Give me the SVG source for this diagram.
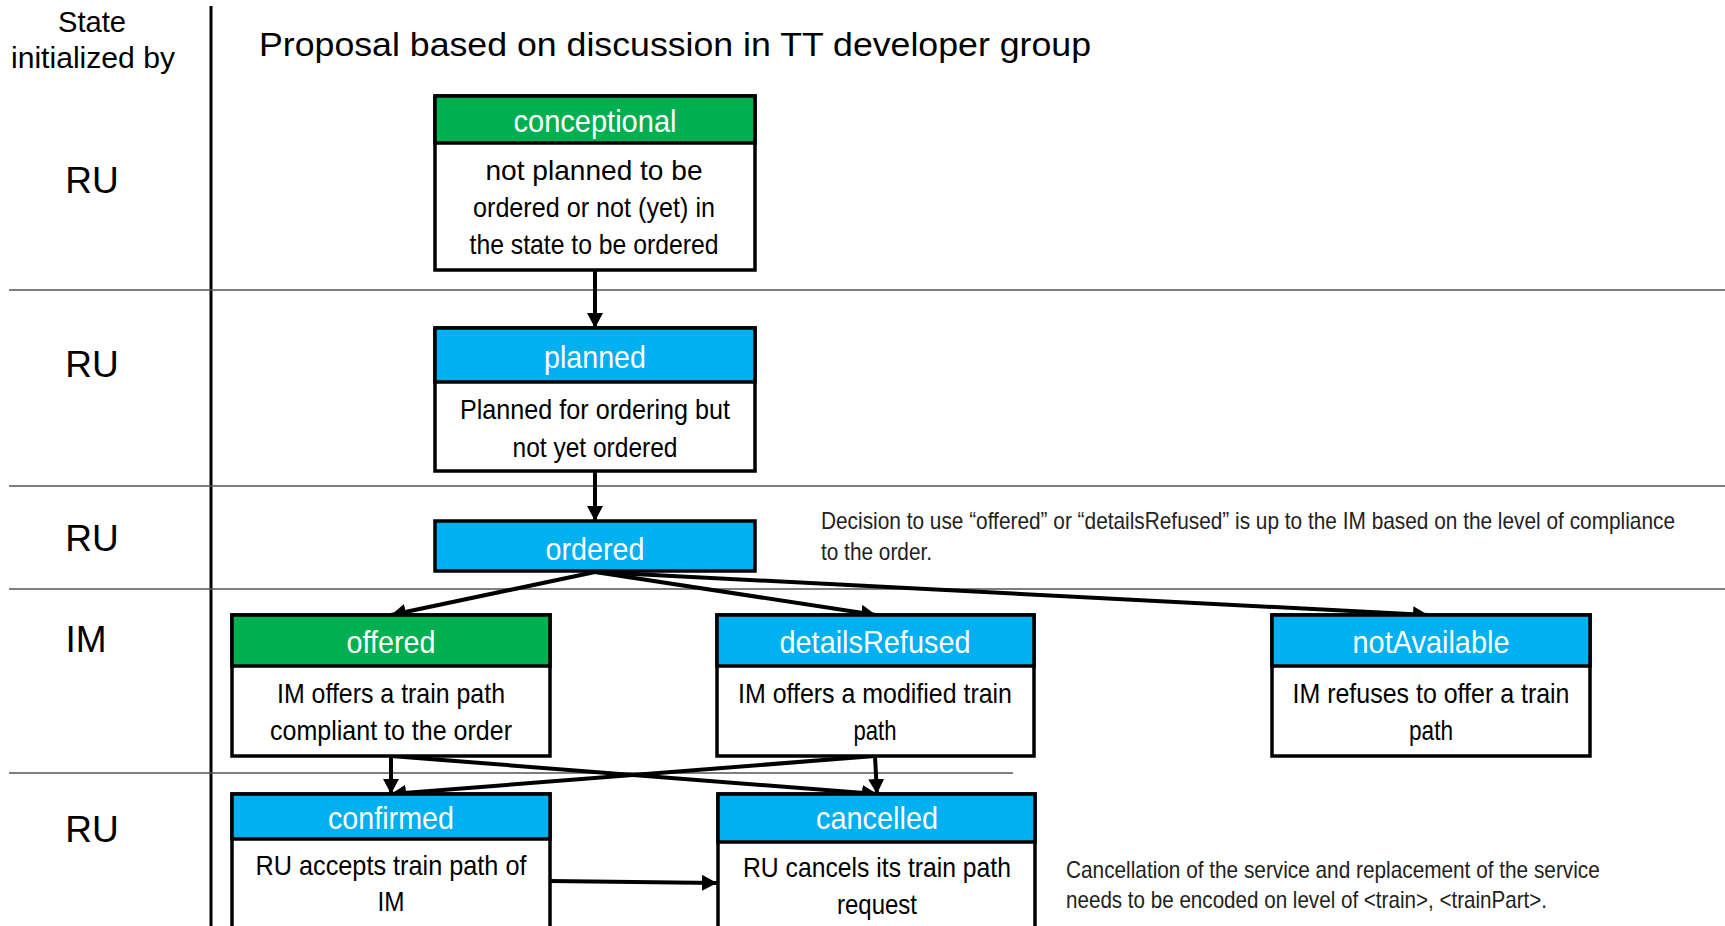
<svg xmlns="http://www.w3.org/2000/svg" width="1725" height="926" viewBox="0 0 1725 926">
<style>
  .bg{fill:#fff}
  .grid{stroke:#555;stroke-width:1.6;fill:none}
  .div{stroke:#000;stroke-width:3;fill:none}
  .lbl{font-family:"Liberation Sans",Arial,sans-serif;fill:#000;text-anchor:middle}
  .title{font-family:"Liberation Sans",Arial,sans-serif;fill:#000;font-size:34px}
  .role{font-family:"Liberation Sans",Arial,sans-serif;fill:#000;font-size:37px;text-anchor:middle}
  .box{fill:#fff;stroke:#000;stroke-width:3.5}
  .hg{fill:#00B050;stroke:#000;stroke-width:3.5}
  .hb{fill:#00B0F0;stroke:#000;stroke-width:3.5}
  .ht{font-family:"Liberation Sans",Arial,sans-serif;fill:#fff;font-size:32px;text-anchor:middle}
  .bt{font-family:"Liberation Sans",Arial,sans-serif;fill:#000;font-size:28px;text-anchor:middle}
  .note{font-family:"Liberation Sans",Arial,sans-serif;fill:#222;font-size:23px}
  .edge{stroke:#000;stroke-width:4;fill:none;marker-end:url(#ah)}
</style>
<defs>
  <marker id="ah" markerUnits="userSpaceOnUse" markerWidth="18" markerHeight="18" refX="15" refY="8" orient="auto">
    <path d="M0,0 L15,8 L0,16 z" fill="#000"/>
  </marker>
</defs>
<rect class="bg" x="0" y="0" width="1725" height="926"/>

<g id="grid">
  <line class="div" x1="211" y1="6" x2="211" y2="926"/>
  <line class="grid" x1="9" y1="290" x2="1725" y2="290"/>
  <line class="grid" x1="9" y1="486" x2="1725" y2="486"/>
  <line class="grid" x1="9" y1="589" x2="1725" y2="589"/>
  <line class="grid" x1="9" y1="773" x2="1013" y2="773"/>
</g>

<g id="labels">
  <text class="lbl" x="92" y="32" font-size="29" textLength="68" lengthAdjust="spacingAndGlyphs">State</text>
  <text class="lbl" x="93" y="68" font-size="29" textLength="164" lengthAdjust="spacingAndGlyphs">initialized by</text>
  <text class="title" x="259" y="56" textLength="832" lengthAdjust="spacingAndGlyphs">Proposal based on discussion in TT developer group</text>
  <text class="role" x="92" y="193">RU</text>
  <text class="role" x="92" y="377">RU</text>
  <text class="role" x="92" y="551">RU</text>
  <text class="role" x="86" y="652">IM</text>
  <text class="role" x="92" y="842">RU</text>
</g>

<g id="notes">
  <text class="note" transform="translate(821 529) scale(0.8 1)" x="0" y="0" textLength="1067.5" lengthAdjust="spacingAndGlyphs">Decision to use “offered”  or “detailsRefused”  is up to the IM based on the level of compliance</text>
  <text class="note" x="821" y="560" textLength="111" lengthAdjust="spacingAndGlyphs">to the order.</text>
  <text class="note" transform="translate(1066 878) scale(0.85 1)" x="0" y="0" textLength="628" lengthAdjust="spacingAndGlyphs">Cancellation of the service and replacement of the service</text>
  <text class="note" transform="translate(1066 908) scale(0.85 1)" x="0" y="0" textLength="566" lengthAdjust="spacingAndGlyphs">needs to be encoded on level of &lt;train&gt;, &lt;trainPart&gt;.</text>
</g>

<g id="connectors">
  <line class="edge" x1="595" y1="270" x2="595" y2="328"/>
  <line class="edge" x1="595" y1="471" x2="595" y2="521"/>
  <line class="edge" x1="595" y1="572" x2="391" y2="615"/>
  <line class="edge" x1="595" y1="572" x2="876" y2="615"/>
  <line class="edge" x1="595" y1="572" x2="1428" y2="615"/>
  <line class="edge" x1="391" y1="756" x2="391" y2="794"/>
  <line class="edge" x1="391" y1="756" x2="877" y2="794"/>
  <line class="edge" x1="875" y1="756" x2="877" y2="794"/>
  <line class="edge" x1="875" y1="756" x2="391" y2="794"/>
  <line class="edge" x1="550" y1="881" x2="717" y2="883"/>
</g>

<g id="conceptional">
  <rect class="box" x="435" y="96" width="320" height="174"/>
  <rect class="hg" x="435" y="96" width="320" height="47"/>
  <text class="ht" x="595" y="132" textLength="163" lengthAdjust="spacingAndGlyphs">conceptional</text>
  <text class="bt" x="594" y="180" textLength="217" lengthAdjust="spacingAndGlyphs">not planned to be</text>
  <text class="bt" x="594" y="217" textLength="242" lengthAdjust="spacingAndGlyphs">ordered or not (yet) in</text>
  <text class="bt" x="594" y="254" textLength="249" lengthAdjust="spacingAndGlyphs">the state to be ordered</text>
</g>

<g id="planned">
  <rect class="box" x="435" y="328" width="320" height="143"/>
  <rect class="hb" x="435" y="328" width="320" height="54"/>
  <text class="ht" x="595" y="368" textLength="102" lengthAdjust="spacingAndGlyphs">planned</text>
  <text class="bt" x="595" y="419" textLength="270" lengthAdjust="spacingAndGlyphs">Planned for ordering but</text>
  <text class="bt" x="595" y="457" textLength="165" lengthAdjust="spacingAndGlyphs">not yet ordered</text>
</g>

<g id="ordered">
  <rect class="hb" x="435" y="521" width="320" height="50"/>
  <text class="ht" x="595" y="560" textLength="99" lengthAdjust="spacingAndGlyphs">ordered</text>
</g>

<g id="offered">
  <rect class="box" x="232" y="615" width="318" height="141"/>
  <rect class="hg" x="232" y="615" width="318" height="51"/>
  <text class="ht" x="391" y="653" textLength="89" lengthAdjust="spacingAndGlyphs">offered</text>
  <text class="bt" x="391" y="703" textLength="228" lengthAdjust="spacingAndGlyphs">IM offers a train path</text>
  <text class="bt" x="391" y="740" textLength="242" lengthAdjust="spacingAndGlyphs">compliant to the order</text>
</g>

<g id="detailsRefused">
  <rect class="box" x="717" y="615" width="317" height="141"/>
  <rect class="hb" x="717" y="615" width="317" height="51"/>
  <text class="ht" x="875" y="653" textLength="191" lengthAdjust="spacingAndGlyphs">detailsRefused</text>
  <text class="bt" x="875" y="703" textLength="274" lengthAdjust="spacingAndGlyphs">IM offers a modified train</text>
  <text class="bt" x="875" y="740" textLength="43" lengthAdjust="spacingAndGlyphs">path</text>
</g>

<g id="notAvailable">
  <rect class="box" x="1272" y="615" width="318" height="141"/>
  <rect class="hb" x="1272" y="615" width="318" height="51"/>
  <text class="ht" x="1431" y="653" textLength="157" lengthAdjust="spacingAndGlyphs">notAvailable</text>
  <text class="bt" x="1431" y="703" textLength="277" lengthAdjust="spacingAndGlyphs">IM refuses to offer a train</text>
  <text class="bt" x="1431" y="740" textLength="44" lengthAdjust="spacingAndGlyphs">path</text>
</g>

<g id="confirmed">
  <rect class="box" x="232" y="794" width="318" height="150"/>
  <rect class="hb" x="232" y="794" width="318" height="45"/>
  <text class="ht" x="391" y="829" textLength="126" lengthAdjust="spacingAndGlyphs">confirmed</text>
  <text class="bt" x="391" y="875" textLength="271" lengthAdjust="spacingAndGlyphs">RU accepts train path of</text>
  <text class="bt" x="391" y="911" textLength="27" lengthAdjust="spacingAndGlyphs">IM</text>
</g>

<g id="cancelled">
  <rect class="box" x="718" y="794" width="317" height="150"/>
  <rect class="hb" x="718" y="794" width="317" height="48"/>
  <text class="ht" x="877" y="829" textLength="122" lengthAdjust="spacingAndGlyphs">cancelled</text>
  <text class="bt" x="877" y="877" textLength="268" lengthAdjust="spacingAndGlyphs">RU cancels its train path</text>
  <text class="bt" x="877" y="914" textLength="80" lengthAdjust="spacingAndGlyphs">request</text>
</g>
</svg>
